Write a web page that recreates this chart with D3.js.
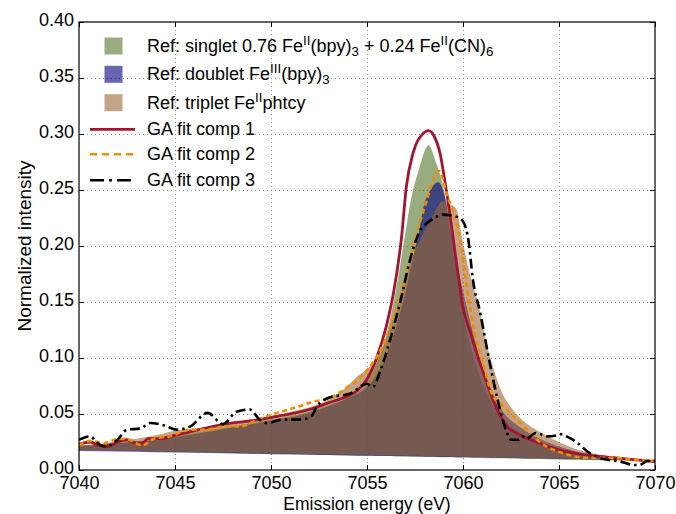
<!DOCTYPE html>
<html>
<head>
<meta charset="utf-8">
<script src="https://cdn.jsdelivr.net/npm/d3@7"></script>
<style>
  body { margin: 0; background: #fff; }
  svg text { font-family: "Liberation Sans", Arial, sans-serif; }
</style>
</head>
<body>
<div id="mainDiv"></div>
<script>
const xTicks = [7040, 7045, 7050, 7055, 7060, 7065, 7070];
const yTicks = [0, 0.05, 0.10, 0.15, 0.20, 0.25, 0.30, 0.35, 0.40];

// reference spectra, [energy eV, intensity]
const refSinglet = [
  [7040, 0.022], [7042, 0.024], [7044, 0.027], [7046, 0.033], [7048, 0.039],
  [7050, 0.045], [7052, 0.052], [7053, 0.058], [7054, 0.065], [7055, 0.078],
  [7055.5, 0.095], [7056, 0.12], [7056.5, 0.16], [7057, 0.212], [7057.25, 0.238],
  [7057.7, 0.268], [7058.2, 0.290], [7058.6, 0.274], [7058.97, 0.253], [7059.3, 0.215],
  [7059.7, 0.172], [7060, 0.14], [7060.5, 0.104], [7061, 0.078], [7062, 0.046],
  [7063, 0.033], [7064, 0.025], [7065, 0.019], [7066, 0.015], [7067, 0.012],
  [7068, 0.0105], [7069, 0.009], [7070, 0.008],
];
const refDoublet = [
  [7040, 0.021], [7042, 0.024], [7044, 0.027], [7046, 0.032], [7048, 0.038],
  [7050, 0.044], [7052, 0.051], [7053, 0.057], [7054, 0.064], [7055, 0.074],
  [7055.5, 0.085], [7056, 0.102], [7056.5, 0.127], [7057, 0.158], [7057.3, 0.182],
  [7057.7, 0.212], [7057.95, 0.235], [7058.3, 0.25], [7058.7, 0.257], [7059.06, 0.244],
  [7059.3, 0.222], [7059.6, 0.192], [7060, 0.16], [7060.5, 0.124], [7061, 0.092],
  [7061.5, 0.07], [7062, 0.054], [7063, 0.038], [7064, 0.028], [7065, 0.021],
  [7066, 0.016], [7067, 0.013], [7068, 0.011], [7069, 0.0095], [7070, 0.0085],
];
const refTriplet = [
  [7040, 0.022], [7041, 0.023], [7042, 0.026], [7043, 0.028], [7044, 0.031],
  [7045, 0.035], [7046, 0.037], [7047, 0.039], [7048, 0.042], [7049, 0.045],
  [7050, 0.048], [7051, 0.052], [7052, 0.056], [7053, 0.063], [7053.8, 0.072],
  [7054.6, 0.085], [7055, 0.09], [7055.5, 0.10], [7056, 0.117], [7056.5, 0.143],
  [7057, 0.172], [7057.5, 0.196], [7057.8, 0.207], [7058.1, 0.217], [7058.45, 0.228],
  [7058.95, 0.240], [7059.35, 0.237], [7059.65, 0.233], [7060.0, 0.203], [7060.4, 0.172],
  [7060.8, 0.148], [7061.2, 0.115], [7061.6, 0.09], [7062, 0.07], [7062.5, 0.056],
  [7063, 0.046], [7064, 0.034], [7065, 0.025], [7066, 0.018], [7067, 0.014],
  [7068, 0.0115], [7069, 0.0098], [7070, 0.0088],
];

// background lines under the reference fills
const singletBase = [[7040, 0.0178], [7070, 0.0078]];
const doubletBase = [[7040, 0.0170], [7070, 0.0085]];
const tripletBase = [[7040, 0.0180], [7070, 0.0088]];

// GA fit components
const gaComp1 = [
  [7040, 0.023], [7040.6, 0.025], [7041.0, 0.022], [7041.5, 0.021], [7042.0, 0.025],
  [7042.5, 0.027], [7043.0, 0.024], [7043.3, 0.024], [7043.6, 0.028], [7044.2, 0.028],
  [7045, 0.031], [7046, 0.035], [7047, 0.039], [7048, 0.042], [7049, 0.044],
  [7050, 0.047], [7051, 0.050], [7052, 0.054], [7053, 0.060], [7054, 0.066],
  [7054.5, 0.071], [7055, 0.081], [7055.5, 0.100], [7056, 0.128], [7056.4, 0.160],
  [7056.8, 0.208], [7057.05, 0.253], [7057.4, 0.283], [7057.9, 0.300], [7058.2, 0.303],
  [7058.5, 0.298], [7058.8, 0.283], [7059.1, 0.253], [7059.4, 0.218], [7059.7, 0.180],
  [7060.0, 0.145], [7060.4, 0.122], [7060.7, 0.105], [7061.2, 0.080], [7061.7, 0.057],
  [7062.3, 0.039], [7063, 0.031], [7064, 0.024], [7065, 0.018], [7066.4, 0.0135],
  [7067.8, 0.011], [7070, 0.0075],
];
const gaComp2 = [
  [7040, 0.022], [7040.6, 0.026], [7041.3, 0.024], [7042.1, 0.028], [7042.6, 0.027],
  [7043.3, 0.022], [7043.9, 0.028], [7044.7, 0.030], [7045.8, 0.036], [7046.6, 0.036],
  [7047.7, 0.039], [7048.4, 0.039], [7049.3, 0.045], [7050.3, 0.051], [7051.3, 0.056],
  [7052.2, 0.061], [7053.0, 0.064], [7053.9, 0.073], [7055.0, 0.089], [7055.7, 0.107],
  [7056.4, 0.137], [7057.1, 0.179], [7057.6, 0.212], [7058.1, 0.240], [7058.45, 0.259],
  [7058.75, 0.267], [7059.2, 0.244], [7059.65, 0.222], [7059.85, 0.205], [7060.2, 0.164],
  [7060.5, 0.131], [7061.1, 0.092], [7061.5, 0.068], [7062.1, 0.057], [7062.8, 0.045],
  [7063.5, 0.033], [7064.0, 0.025], [7065.2, 0.015], [7066.4, 0.011], [7067.8, 0.011],
  [7068.9, 0.009], [7070, 0.0083],
];
const gaComp3 = [
  [7040, 0.027], [7040.6, 0.030], [7040.9, 0.025], [7041.4, 0.021], [7042.0, 0.027],
  [7042.5, 0.036], [7043.2, 0.037], [7043.7, 0.042], [7044.4, 0.040], [7045.1, 0.036],
  [7045.8, 0.039], [7046.7, 0.051], [7047.5, 0.041], [7048.2, 0.052], [7048.9, 0.054],
  [7049.4, 0.045], [7049.8, 0.042], [7050.6, 0.045], [7051.5, 0.045], [7052.1, 0.048],
  [7052.4, 0.057], [7053.1, 0.065], [7054.1, 0.068], [7055.0, 0.077], [7055.3, 0.074],
  [7055.7, 0.089], [7056.2, 0.116], [7056.8, 0.155], [7057.2, 0.185], [7057.55, 0.205],
  [7057.8, 0.215], [7058.1, 0.220], [7058.5, 0.225], [7058.95, 0.228], [7059.7, 0.226],
  [7060.0, 0.222], [7060.3, 0.203], [7060.5, 0.172], [7060.9, 0.140], [7061.4, 0.095],
  [7061.8, 0.063], [7062.3, 0.033], [7062.5, 0.027], [7062.9, 0.027], [7063.1, 0.030],
  [7063.3, 0.028], [7063.8, 0.033], [7064.4, 0.030], [7064.9, 0.031], [7065.1, 0.032],
  [7065.4, 0.030], [7065.9, 0.025], [7066.6, 0.015], [7067.3, 0.010], [7068.2, 0.0075],
  [7068.9, 0.0045], [7069.2, 0.0045], [7069.6, 0.008], [7070, 0.0083],
];

// legend labels: [text, "sup" | "sub" | undefined]
const singletLabel = [["Ref: singlet 0.76 Fe"], ["II", "sup"], ["(bpy)"], ["3", "sub"],
  [" + 0.24 Fe"], ["II", "sup"], ["(CN)"], ["6", "sub"]];
const doubletLabel = [["Ref: doublet Fe"], ["III", "sup"], ["(bpy)"], ["3", "sub"]];
const tripletLabel = [["Ref: triplet Fe"], ["II", "sup"], ["phtcy"]];
const comp1Label = [["GA fit comp 1"]];
const comp2Label = [["GA fit comp 2"]];
const comp3Label = [["GA fit comp 3"]];

const chartSize = {
  width: 676,
  height: 514,
  margin: { top: 22, right: 21, bottom: 44, left: 79 },
};
const fontSize = 18;

const fills = [
  { data: refSinglet, base: singletBase, color: "#53752b", label: singletLabel },
  { data: refDoublet, base: doubletBase, color: "#000080", label: doubletLabel },
  { data: refTriplet, base: tripletBase, color: "#9d6732", label: tripletLabel },
];
const fillOpacity = 0.6;

const lines = [
  { data: gaComp1, color: "#a2142f", width: 2.8, dash: null, legendDash: null, label: comp1Label },
  { data: gaComp2, color: "#f28c00", width: 2.6, dash: "5,3.5", legendDash: "7,5", label: comp2Label },
  { data: gaComp3, color: "#000000", width: 2.6, dash: "10,4,2.5,4", legendDash: "14,5,3,5", label: comp3Label },
];

const svg = d3.select("#mainDiv")
  .append("svg")
  .attr("width", chartSize.width)
  .attr("height", chartSize.height);

const x = d3.scaleLinear()
  .domain([xTicks[0], xTicks[xTicks.length - 1]])
  .range([chartSize.margin.left, chartSize.width - chartSize.margin.right]);

const y = d3.scaleLinear()
  .domain([yTicks[0], yTicks[yTicks.length - 1]])
  .range([chartSize.height - chartSize.margin.bottom, chartSize.margin.top]);

const [x0, x1] = x.range();
const [yBottom, yTop] = y.range();

svg.append("defs").append("clipPath")
  .attr("id", "plotClip")
  .append("rect")
  .attr("x", x0).attr("y", yTop)
  .attr("width", x1 - x0).attr("height", yBottom - yTop);

// grid
const grid = svg.append("g")
  .attr("stroke", "#8c8c8c")
  .attr("stroke-width", 1)
  .attr("stroke-dasharray", "1,3");

grid.selectAll("line.vx")
  .data(xTicks.slice(1, -1))
  .join("line")
  .attr("x1", d => x(d) + 0.5).attr("x2", d => x(d) + 0.5)
  .attr("y1", yTop).attr("y2", yBottom);

grid.selectAll("line.hy")
  .data(yTicks.slice(1, -1))
  .join("line")
  .attr("y1", d => Math.round(y(d)) + 0.5).attr("y2", d => Math.round(y(d)) + 0.5)
  .attr("x1", x0).attr("x2", x1);

const plot = svg.append("g").attr("clip-path", "url(#plotClip)");

fills.forEach(f => {
  const base = d3.scaleLinear()
    .domain(f.base.map(d => d[0]))
    .range(f.base.map(d => d[1]));
  const area = d3.area()
    .x(d => x(d[0]))
    .y0(d => y(base(d[0])))
    .y1(d => y(d[1]))
    .curve(d3.curveMonotoneX);
  plot.append("path")
    .datum(f.data)
    .attr("d", area)
    .attr("fill", f.color)
    .attr("fill-opacity", fillOpacity);
});

lines.forEach(l => {
  const line = d3.line()
    .x(d => x(d[0]))
    .y(d => y(d[1]))
    .curve(d3.curveMonotoneX);
  plot.append("path")
    .datum(l.data)
    .attr("d", line)
    .attr("fill", "none")
    .attr("stroke", l.color)
    .attr("stroke-width", l.width)
    .attr("stroke-dasharray", l.dash)
    .attr("stroke-linejoin", "round");
});

// axes, ticks pointing inward on all four sides
const tickLen = 5;

function styleAxis(g) {
  g.select(".domain").remove();
  g.selectAll(".tick line").attr("stroke", "#000");
  g.selectAll(".tick text")
    .attr("fill", "#000")
    .attr("font-size", fontSize)
    .attr("font-family", "Liberation Sans, Arial, sans-serif");
}

svg.append("g")
  .attr("transform", `translate(0,${yBottom})`)
  .call(d3.axisBottom(x).tickValues(xTicks).tickFormat(d3.format("d"))
    .tickSizeInner(-tickLen).tickSizeOuter(0).tickPadding(6))
  .call(styleAxis);

svg.append("g")
  .attr("transform", `translate(0,${yTop})`)
  .call(d3.axisTop(x).tickValues(xTicks).tickFormat("")
    .tickSizeInner(-tickLen).tickSizeOuter(0))
  .call(styleAxis);

svg.append("g")
  .attr("transform", `translate(${x0},0)`)
  .call(d3.axisLeft(y).tickValues(yTicks).tickFormat(d3.format(".2f"))
    .tickSizeInner(-tickLen).tickSizeOuter(0).tickPadding(5))
  .call(styleAxis)
  .call(g => g.selectAll(".tick text").attr("dy", "0.22em"));

svg.append("g")
  .attr("transform", `translate(${x1},0)`)
  .call(d3.axisRight(y).tickValues(yTicks).tickFormat("")
    .tickSizeInner(-tickLen).tickSizeOuter(0))
  .call(styleAxis);

svg.append("rect")
  .attr("x", x0).attr("y", yTop)
  .attr("width", x1 - x0).attr("height", yBottom - yTop)
  .attr("fill", "none")
  .attr("stroke", "#000")
  .attr("stroke-width", 1.2);

// axis titles
svg.append("text")
  .attr("x", (x0 + x1) / 2)
  .attr("y", chartSize.height - 4)
  .attr("text-anchor", "middle")
  .attr("font-size", 17.5)
  .text("Emission energy (eV)");

svg.append("text")
  .attr("transform", `translate(31,${(yTop + yBottom) / 2}) rotate(-90)`)
  .attr("text-anchor", "middle")
  .attr("font-size", 19)
  .text("Normalized intensity");

// legend
const legend = {
  handleX: 90,
  handleW: 45,
  patchW: 18,
  patchH: 17,
  textX: 147,
  rows: [46, 74.3, 102.7, 129.3, 154.3, 180.3],
};
const supShift = -7;
const subShift = 4;
const scriptScale = 0.74;

function writeLabel(text, parts) {
  let shift = 0;
  parts.forEach(([s, kind]) => {
    const target = kind === "sup" ? supShift : kind === "sub" ? subShift : 0;
    const t = text.append("tspan")
      .attr("dy", target - shift)
      .text(s);
    if (kind) t.attr("font-size", fontSize * scriptScale);
    shift = target;
  });
}

const legendG = svg.append("g");

fills.forEach((f, i) => {
  const cy = legend.rows[i];
  legendG.append("rect")
    .attr("x", legend.handleX + (legend.handleW - legend.patchW) / 2 + 1)
    .attr("y", cy - legend.patchH / 2)
    .attr("width", legend.patchW)
    .attr("height", legend.patchH)
    .attr("fill", f.color)
    .attr("fill-opacity", fillOpacity);
  const t = legendG.append("text")
    .attr("x", legend.textX)
    .attr("y", cy + 6)
    .attr("font-size", fontSize);
  writeLabel(t, f.label);
});

lines.forEach((l, i) => {
  const cy = legend.rows[fills.length + i];
  legendG.append("line")
    .attr("x1", legend.handleX).attr("x2", legend.handleX + legend.handleW)
    .attr("y1", cy).attr("y2", cy)
    .attr("stroke", l.color)
    .attr("stroke-width", l.width)
    .attr("stroke-dasharray", l.legendDash);
  const t = legendG.append("text")
    .attr("x", legend.textX)
    .attr("y", cy + 6)
    .attr("font-size", fontSize);
  writeLabel(t, l.label);
});
</script>
</body>
</html>
